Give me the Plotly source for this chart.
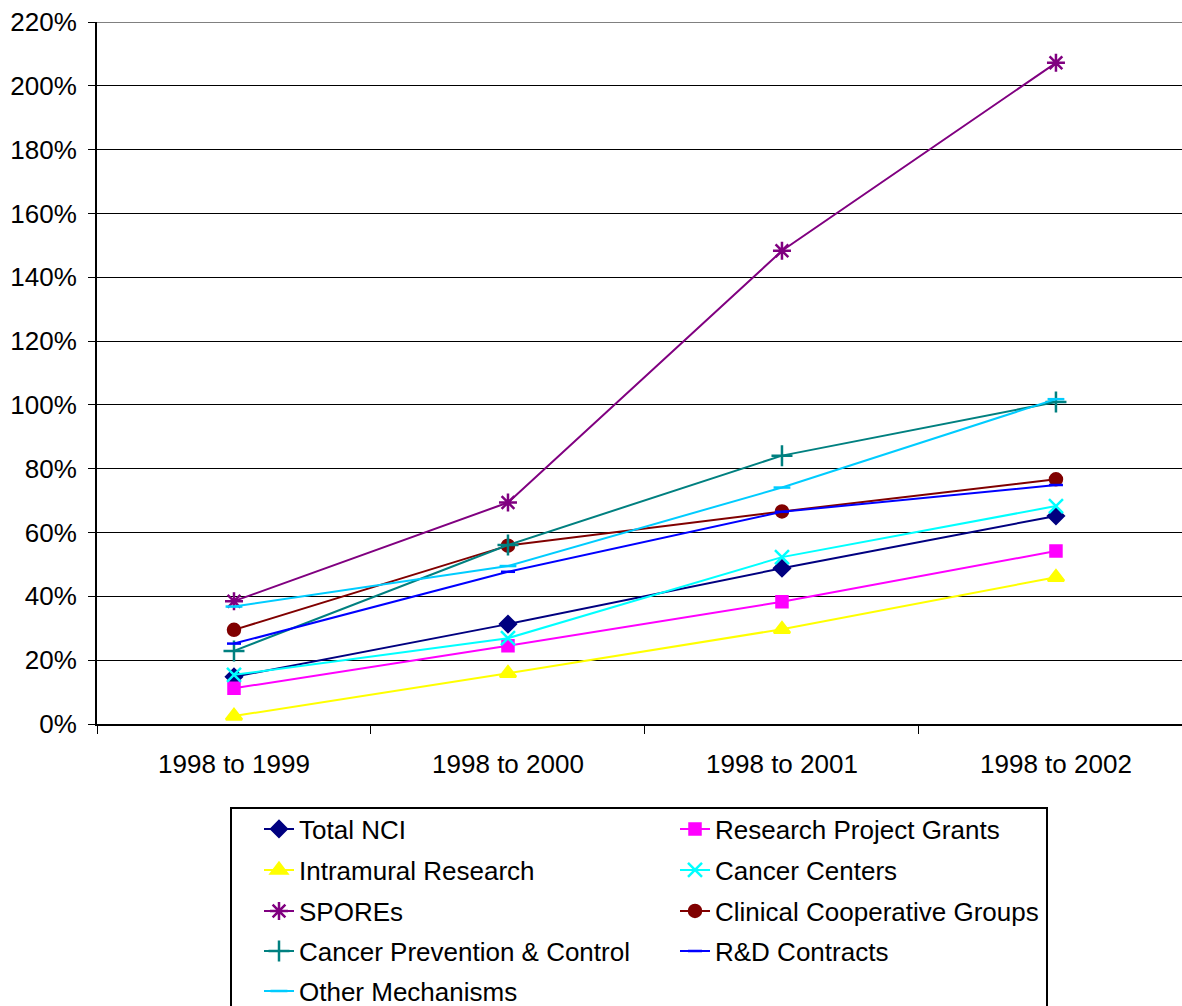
import plotly.graph_objects as go

categories = ["1998 to 1999", "1998 to 2000", "1998 to 2001", "1998 to 2002"]

total_nci = [0.148, 0.313, 0.488, 0.652]
research_project_grants = [0.112, 0.245, 0.383, 0.542]
intramural_research = [0.025, 0.159, 0.297, 0.460]
cancer_centers = [0.154, 0.269, 0.523, 0.683]
spores = [0.385, 0.694, 1.483, 2.072]
clinical_coop = [0.295, 0.559, 0.666, 0.767]
cancer_prevention = [0.229, 0.561, 0.841, 1.009]
rd_contracts = [0.252, 0.477, 0.665, 0.749]
other_mechanisms = [0.368, 0.495, 0.741, 1.018]

series = [
    ("Total NCI", total_nci, "#000080", "diamond", 12),
    ("Research Project Grants", research_project_grants, "#FF00FF", "square", 11),
    ("Intramural Research", intramural_research, "#FFFF00", "triangle-up", 14),
    ("Cancer Centers", cancer_centers, "#00FFFF", "x-thin", 14),
    ("SPOREs", spores, "#800080", "asterisk", 15),
    ("Clinical Cooperative Groups", clinical_coop, "#800000", "circle", 12),
    ("Cancer Prevention & Control", cancer_prevention, "#008080", "cross-thin", 15),
    ("R&D Contracts", rd_contracts, "#0000FF", "line-ew", 10),
    ("Other Mechanisms", other_mechanisms, "#00CCFF", "line-ew", 12),
]

# layout geometry (pixels)
W, H = 1182, 1006
ML, MT, MB = 97, 22, 282
plot_w = W - ML
plot_h = H - MT - MB
bottom_px = H - MB

def px_to_paper_x(px):
    return (px - ML) / plot_w

def px_to_paper_y(py):
    return (bottom_px - py) / plot_h

row_centers = [829, 870, 911, 951, 991]
col_text_left = [300, 716]

fig = go.Figure()
legends = {}
for i, (name, vals, color, symbol, size) in enumerate(series):
    key = "legend" if i == 0 else f"legend{i + 1}"
    row, col = divmod(i, 2)
    legends[key] = dict(
        x=px_to_paper_x(col_text_left[col] - 41), xanchor="left",
        y=px_to_paper_y(row_centers[row]), yanchor="middle",
        bgcolor="rgba(0,0,0,0)", borderwidth=0,
        font=dict(size=26, color="black"),
    )
    fig.add_trace(go.Scatter(
        x=categories, y=vals, name=name, mode="lines+markers",
        legend=key,
        line=dict(color=color, width=2),
        marker=dict(symbol=symbol, size=size, color=color,
                    line=dict(color=color, width=2.5)),
    ))

fig.update_layout(
    width=W, height=H,
    margin=dict(l=ML, r=0, t=MT, b=MB, autoexpand=False),
    paper_bgcolor="white", plot_bgcolor="white",
    font=dict(family="Liberation Sans, Arial, sans-serif", color="black", size=26),
    showlegend=True,
    xaxis=dict(
        type="category", range=[-0.5, 3.46],
        showgrid=False, showline=True, linecolor="black", linewidth=2,
        ticks="outside", tickson="boundaries", ticklen=8, tickcolor="black", tickwidth=1,
        tickfont=dict(size=26), zeroline=False, ticklabelstandoff=16,
    ),
    yaxis=dict(
        range=[0, 2.2], dtick=0.2, tickformat=".0%",
        showgrid=True, gridcolor="black", gridwidth=1,
        showline=True, linecolor="black", linewidth=2,
        ticks="outside", ticklen=7, tickcolor="black", tickwidth=1,
        tickfont=dict(size=26), zeroline=False, ticklabelstandoff=6,
    ),
    shapes=[
        dict(type="line", xref="paper", yref="y", x0=0, x1=1, y0=2.2, y1=2.2,
             line=dict(color="#808080", width=2)),
        dict(type="rect", xref="paper", yref="paper",
             x0=px_to_paper_x(231), x1=px_to_paper_x(1047),
             y0=px_to_paper_y(808), y1=px_to_paper_y(1012),
             line=dict(color="black", width=2), fillcolor="rgba(0,0,0,0)"),
    ],
    **legends,
)

fig.write_html(
    "out.html",
    config={"displayModeBar": False},
    post_script="document.body.style.margin='0';document.body.style.overflow='hidden';",
)
